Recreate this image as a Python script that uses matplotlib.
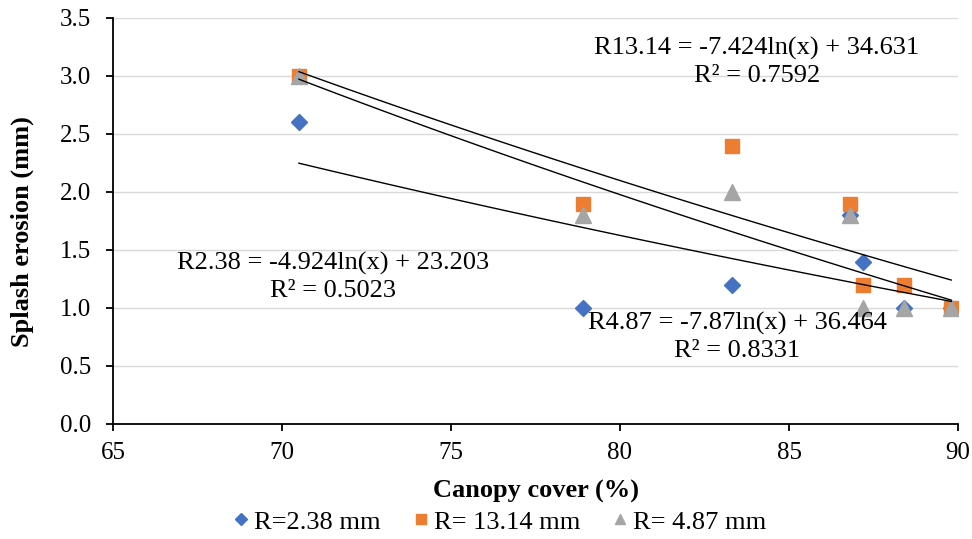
import numpy as np
from matplotlib import pyplot as plt

plt.rcParams["font.family"] = ["Liberation Serif", "DejaVu Serif"]

# canopy cover (%) for each plot
canopy = [70.5, 78.9, 83.3, 86.8, 87.2, 88.4, 89.8]

# splash erosion (mm) per rainfall class
ero_238 = [2.6, 1.0, 1.2, 1.8, 1.4, 1.0, 1.0]
ero_1314 = [3.0, 1.9, 2.4, 1.9, 1.2, 1.2, 1.0]
ero_487 = [3.0, 1.8, 2.0, 1.8, 1.0, 1.0, 1.0]

# log trendline coefficients (a, b) for y = a*ln(x) + b
fit_238 = (-4.924, 23.203)
fit_1314 = (-7.424, 34.631)
fit_487 = (-7.87, 36.464)

labels = ["R=2.38 mm", "R= 13.14 mm", "R= 4.87 mm"]
eq_texts = [
    "R2.38 = -4.924ln(x) + 23.203\nR² = 0.5023",
    "R13.14 = -7.424ln(x) + 34.631\nR² = 0.7592",
    "R4.87 = -7.87ln(x) + 36.464\nR² = 0.8331",
]

fig = plt.figure(figsize=(9.72, 5.39), dpi=100)
ax = fig.add_axes([113 / 972, 1 - 424 / 539, (958 - 113) / 972, (424 - 18) / 539])

ax.grid(axis="y", color="#d9d9d9", linewidth=1)
ax.set_axisbelow(True)

ax.plot(canopy, ero_238, "D", color="#4472C4", markersize=8.5, label=labels[0], zorder=3)
ax.plot(canopy, ero_1314, "s", color="#ED7D31", markersize=10, label=labels[1], zorder=3)
ax.plot(canopy, ero_487, "^", color="#A5A5A5", markersize=11, label=labels[2], zorder=3)

xs = np.linspace(min(canopy), max(canopy), 100)
for a, b in (fit_238, fit_1314, fit_487):
    ax.plot(xs, a * np.log(xs) + b, color="black", linewidth=1, zorder=4)

ax.text(71.5, 1.27, eq_texts[0], ha="center", va="center", fontsize=19, linespacing=1.3)
ax.text(84.05, 3.12, eq_texts[1], ha="center", va="center", fontsize=19, linespacing=1.3)
ax.text(83.46, 0.75, eq_texts[2], ha="center", va="center", fontsize=19, linespacing=1.3)

ax.set_xlim(65, 90)
ax.set_ylim(0, 3.5)
ax.set_xticks(np.arange(65, 91, 5))
ax.set_yticks(np.arange(0, 3.51, 0.5))
ax.set_yticklabels([f"{v:.1f}" for v in np.arange(0, 3.51, 0.5)])
ax.tick_params(labelsize=18, direction="out", length=5, width=1.3, color="black")
ax.tick_params(axis="y", pad=11)
ax.tick_params(axis="x", pad=8)
for side in ("top", "right"):
    ax.spines[side].set_visible(False)
for side in ("left", "bottom"):
    ax.spines[side].set_linewidth(1.3)

ax.set_xlabel("Canopy cover (%)", fontsize=19, fontweight="bold")
ax.set_ylabel("Splash erosion (mm)", fontsize=19, fontweight="bold")
ax.xaxis.set_label_coords(0.5, -0.138)
ax.yaxis.set_label_coords(-0.093, 0.473)

ax.legend(loc="center", bbox_to_anchor=(0.456, -0.241), ncol=3, frameon=False,
          fontsize=19, handlelength=0.8, handletextpad=0.1, columnspacing=1.1,
          markerscale=0.7, borderaxespad=0, borderpad=0)

fig.savefig("out.png", dpi=100)
